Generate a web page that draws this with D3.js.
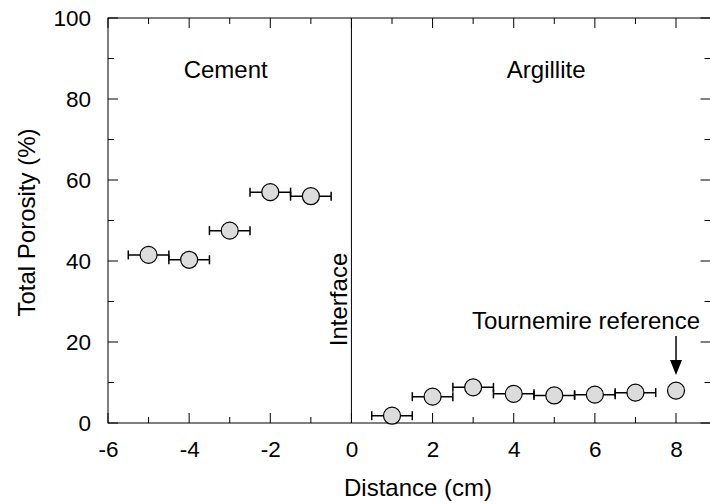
<!DOCTYPE html>
<html><head><meta charset="utf-8">
<script src="https://cdn.jsdelivr.net/npm/d3@7"></script>
<style>body{margin:0;background:#fff}svg{display:block}text{font-family:"Liberation Sans",Arial,sans-serif;fill:#000}</style>
</head><body><svg id="c" width="710" height="504"></svg>
<script>
const cementX = [-5, -4, -3, -2, -1];
const cementY = [41.5, 40.3, 47.5, 57.0, 56.0];
const argX = [1, 2, 3, 4, 5, 6, 7, 8];
const argY = [1.8, 6.5, 8.8, 7.2, 6.8, 7.0, 7.5, 8.0];
const argErr = [0.5, 0.5, 0.5, 0.5, 0.5, 0.5, 0.5, 0];
const cementErr = [0.5, 0.5, 0.5, 0.5, 0.5];
const xTicks = [-6, -4, -2, 0, 2, 4, 6, 8];
const yTicks = [0, 20, 40, 60, 80, 100];

const svg = d3.select("#c");
const L = 108, R = 710.5, T = 18, B = 423;
const x = d3.scaleLinear().domain([-6, 8.85]).range([L, R]);
const y = d3.scaleLinear().domain([0, 100]).range([B, T]);
const fs = 24, fsTick = 22.5;
const ff = "Liberation Sans, Arial, sans-serif";

// frame
svg.append("rect").attr("x", L).attr("y", T).attr("width", R - L).attr("height", B - T)
  .attr("fill", "none").attr("stroke", "#000").attr("stroke-width", 1);

// x ticks (inward), bottom and top
d3.range(-6, 9, 1).forEach(v => {
  const len = (v % 2 === 0) ? 10 : 6;
  svg.append("line").attr("x1", x(v)).attr("x2", x(v)).attr("y1", B).attr("y2", B - len).attr("stroke", "#000");
  svg.append("line").attr("x1", x(v)).attr("x2", x(v)).attr("y1", T).attr("y2", T + len).attr("stroke", "#000");
});
const xAxis = d3.axisBottom(x).tickValues(xTicks).tickSize(0).tickPadding(0).tickFormat(d => String(d));
const gx = svg.append("g").attr("transform", `translate(0,${B})`).call(xAxis);
gx.select(".domain").remove();
gx.selectAll("text").attr("font-size", fsTick).attr("font-family", ff).attr("fill", "#000").attr("dy", null).attr("y", 34);

// y ticks inward, left and right
d3.range(0, 101, 10).forEach(v => {
  const len = (v % 20 === 0) ? 10 : 6;
  svg.append("line").attr("x1", L).attr("x2", L + len).attr("y1", y(v)).attr("y2", y(v)).attr("stroke", "#000");
  svg.append("line").attr("x1", R).attr("x2", R - len).attr("y1", y(v)).attr("y2", y(v)).attr("stroke", "#000");
});
const yAxis = d3.axisLeft(y).tickValues(yTicks).tickSize(0).tickPadding(17).tickFormat(d => String(d));
const gy = svg.append("g").attr("transform", `translate(${L},0)`).call(yAxis);
gy.select(".domain").remove();
gy.selectAll("text").attr("font-size", fsTick).attr("font-family", ff).attr("fill", "#000");

// interface line
svg.append("line").attr("x1", x(0)).attr("x2", x(0)).attr("y1", T).attr("y2", B).attr("stroke", "#000");

// axis titles
svg.append("text").attr("x", 418).attr("y", 496).attr("text-anchor", "middle").attr("font-size", fs).text("Distance (cm)");
svg.append("text").attr("transform", `translate(35,${y(49.5)}) rotate(-90)`).attr("text-anchor", "middle").attr("font-size", fs).text("Total Porosity (%)");

// annotations
svg.append("text").attr("x", x(-3.1)).attr("y", 78).attr("text-anchor", "middle").attr("font-size", fs).text("Cement");
svg.append("text").attr("x", x(4.8)).attr("y", 78).attr("text-anchor", "middle").attr("font-size", fs).text("Argillite");
svg.append("text").attr("transform", `translate(${x(0) - 4},${y(30.5)}) rotate(-90)`).attr("text-anchor", "middle").attr("font-size", fs).text("Interface");
svg.append("text").attr("x", 700).attr("y", 329).attr("text-anchor", "end").attr("font-size", fs).text("Tournemire reference");
svg.append("line").attr("x1", x(8)).attr("x2", x(8)).attr("y1", 336).attr("y2", 362).attr("stroke", "#000").attr("stroke-width", 1.5);
svg.append("path").attr("d", `M${x(8) - 6},360 L${x(8) + 6},360 L${x(8)},375 Z`).attr("fill", "#000");

// data
function drawSeries(xs, ys, errs) {
  const g = svg.append("g");
  xs.forEach((xv, i) => {
    const e = errs[i];
    if (e > 0) {
      g.append("line").attr("x1", x(xv - e)).attr("x2", x(xv + e)).attr("y1", y(ys[i])).attr("y2", y(ys[i])).attr("stroke", "#000").attr("stroke-width", 1.5);
      [xv - e, xv + e].forEach(c => g.append("line").attr("x1", x(c)).attr("x2", x(c)).attr("y1", y(ys[i]) - 4.5).attr("y2", y(ys[i]) + 4.5).attr("stroke", "#000").attr("stroke-width", 1.5));
    }
  });
  xs.forEach((xv, i) => {
    g.append("circle").attr("cx", x(xv)).attr("cy", y(ys[i])).attr("r", 8.5).attr("fill", "#dcdcdc").attr("stroke", "#000").attr("stroke-width", 1.2);
  });
}
drawSeries(cementX, cementY, cementErr);
drawSeries(argX, argY, argErr);
</script></body></html>
